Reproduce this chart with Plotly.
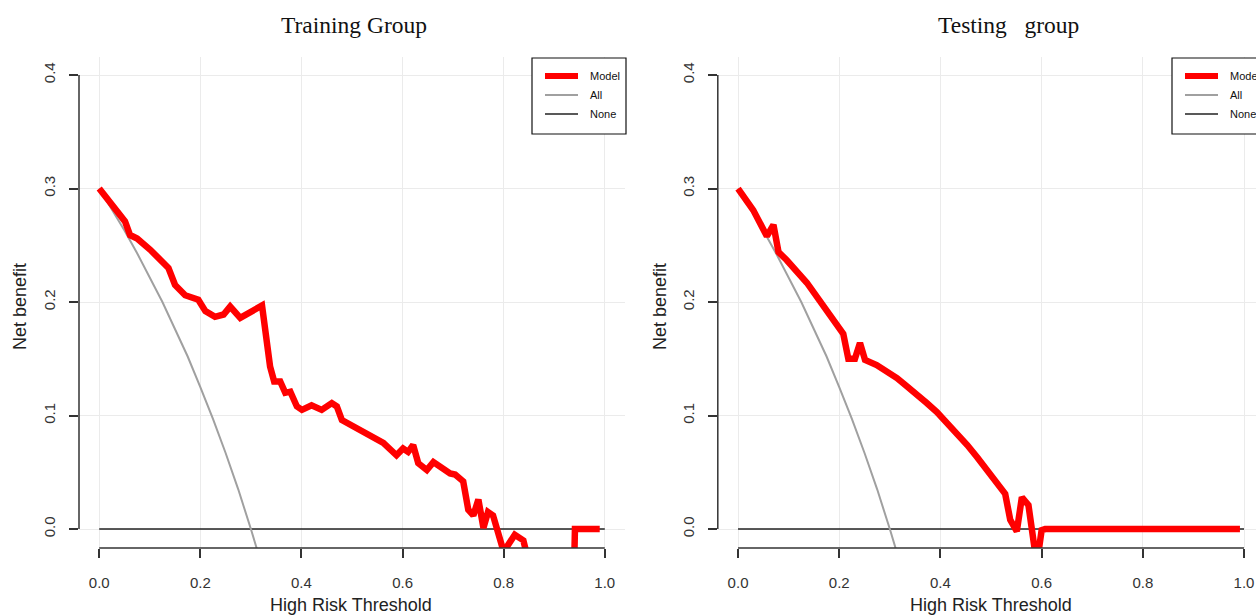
import plotly.graph_objects as go

# ---------------- data ----------------
train_model_x = [0.000, 0.022, 0.042, 0.051, 0.061, 0.075, 0.101, 0.121, 0.137, 0.150,
                 0.170, 0.196, 0.210, 0.229, 0.246, 0.259, 0.279, 0.322, 0.330, 0.338,
                 0.346, 0.358, 0.368, 0.378, 0.391, 0.401, 0.420, 0.440, 0.460, 0.470,
                 0.480, 0.529, 0.562, 0.588, 0.601, 0.611, 0.621, 0.631, 0.648, 0.661,
                 0.694, 0.704, 0.720, 0.730, 0.740, 0.750, 0.760, 0.769, 0.779, 0.800,
                 0.822, 0.839, 0.850, 0.880, 0.910, 0.938, 0.941, 0.990]
train_model_y = [0.300, 0.287, 0.277, 0.271, 0.259, 0.256, 0.246, 0.237, 0.230, 0.215,
                 0.206, 0.202, 0.192, 0.187, 0.189, 0.196, 0.186, 0.197, 0.172, 0.143,
                 0.130, 0.130, 0.120, 0.121, 0.108, 0.105, 0.109, 0.105, 0.111, 0.108,
                 0.096, 0.084, 0.076, 0.065, 0.071, 0.068, 0.074, 0.058, 0.052, 0.059,
                 0.049, 0.048, 0.042, 0.017, 0.012, 0.026, 0.001, 0.015, 0.012, -0.020,
                 -0.005, -0.010, -0.030, -0.060, -0.080, -0.060, 0.000, 0.000]

test_model_x = [0.000, 0.030, 0.057, 0.070, 0.080, 0.096, 0.136, 0.169, 0.198, 0.208,
                0.218, 0.231, 0.241, 0.251, 0.274, 0.294, 0.314, 0.333, 0.353, 0.373,
                0.393, 0.413, 0.433, 0.453, 0.473, 0.493, 0.513, 0.528,
                0.538, 0.551, 0.561, 0.574, 0.587, 0.594, 0.600, 0.607, 0.992]
test_model_y = [0.300, 0.281, 0.258, 0.268, 0.244, 0.237, 0.217, 0.196, 0.177, 0.172,
                0.150, 0.150, 0.164, 0.149, 0.1445, 0.139, 0.133, 0.126, 0.119, 0.111,
                0.103, 0.094, 0.084, 0.074, 0.063, 0.052, 0.040, 0.031,
                0.008, -0.002, 0.028, 0.021, -0.020, -0.020, -0.001, 0.000, 0.000]

all_x = [0.000, 0.025, 0.050, 0.075, 0.100, 0.125, 0.150, 0.175, 0.200, 0.225,
         0.250, 0.275, 0.300, 0.325]
all_y = [0.300, 0.282, 0.263, 0.243, 0.222, 0.200, 0.176, 0.152, 0.125, 0.097,
         0.067, 0.035, 0.000, -0.037]

none_x = [0.0, 1.0]
none_y = [0.0, 0.0]

x_ticks = [0.0, 0.2, 0.4, 0.6, 0.8, 1.0]
x_tick_labels = ["0.0", "0.2", "0.4", "0.6", "0.8", "1.0"]
y_ticks = [0.0, 0.1, 0.2, 0.3, 0.4]
y_tick_labels = ["0.0", "0.1", "0.2", "0.3", "0.4"]

titles = ["Training Group", "Testing\u00a0\u00a0\u00a0group"]
x_title = "High Risk Threshold"
y_title = "Net benefit"
legend_names = ["Model", "All", "None"]

# ---------------- layout helpers ----------------
W, H = 1256, 615
def fx(px):
    return px / W
def fy(py):
    return 1 - py / H

RED = "#ff0000"
GRAY = "#a0a0a0"
BLACK = "#222222"
AXC = "#333333"
FONT = "Liberation Sans, Arial, sans-serif"

fig = go.Figure()

panels = [
    ("x", "y", train_model_x, train_model_y, 0),
    ("x2", "y2", test_model_x, test_model_y, 640),
]
for xa, ya, mx, my, off in panels:
    fig.add_trace(go.Scatter(x=none_x, y=none_y, mode="lines", name=legend_names[2],
                             line=dict(color=BLACK, width=1.5), xaxis=xa, yaxis=ya,
                             showlegend=False, hoverinfo="skip"))
    fig.add_trace(go.Scatter(x=all_x, y=all_y, mode="lines", name=legend_names[1],
                             line=dict(color=GRAY, width=2), xaxis=xa, yaxis=ya,
                             showlegend=False, hoverinfo="skip"))
    fig.add_trace(go.Scatter(x=mx, y=my, mode="lines", name=legend_names[0],
                             line=dict(color=RED, width=6.5), xaxis=xa, yaxis=ya,
                             showlegend=False))

y_dom = [fy(548), fy(57)]
y_range = [-0.0167, (529 - 57) / 1135]

axis_common = dict(
    showgrid=True, gridcolor="#ebebeb", gridwidth=1, zeroline=False,
    showline=False, ticks="outside", ticklen=9, tickwidth=1.5, tickcolor=AXC,
    tickfont=dict(family=FONT, size=15, color="#333333"),
)

fig.update_layout(
    width=W, height=H, margin=dict(l=0, r=0, t=0, b=0),
    plot_bgcolor="white", paper_bgcolor="white", showlegend=False,
    xaxis=dict(domain=[fx(79), fx(625)], range=[-0.04, 1.04], anchor="y",
               tickvals=x_ticks, ticktext=x_tick_labels, ticklabelstandoff=12, **axis_common),
    yaxis=dict(domain=y_dom, range=y_range, anchor="x",
               tickvals=y_ticks, ticktext=y_tick_labels, tickangle=-90,
               ticklabelstandoff=8, **axis_common),
    xaxis2=dict(domain=[fx(717.8), 1.0], range=[-0.04, (W - 738) / 506], anchor="y2",
                tickvals=x_ticks, ticktext=x_tick_labels, ticklabelstandoff=12, **axis_common),
    yaxis2=dict(domain=y_dom, range=y_range, anchor="x2",
                tickvals=y_ticks, ticktext=y_tick_labels, tickangle=-90,
                ticklabelstandoff=8, **axis_common),
)

shapes = []
annotations = []
for i, (xa, ya, _, _, off) in enumerate(panels):
    xd = ("x" if xa == "x" else "x2")
    yd = ("y" if ya == "y" else "y2")
    # R-style axis lines spanning only the tick range
    shapes.append(dict(type="line", xref=xd, yref=yd + " domain", x0=0, x1=1, y0=0, y1=0,
                       line=dict(color=AXC, width=1.5)))
    shapes.append(dict(type="line", xref=xd + " domain", yref=yd, x0=0, x1=0, y0=0, y1=0.4,
                       line=dict(color=AXC, width=1.5)))
    # legend box
    shapes.append(dict(type="rect", xref="paper", yref="paper",
                       x0=fx(532 + off), x1=fx(626 + off), y0=fy(134), y1=fy(58),
                       line=dict(color="#111111", width=1.2), fillcolor="white", layer="above"))
    leg_styles = [(RED, 6, 76), (GRAY, 2, 95), (BLACK, 1.3, 114)]
    for name, (col, wid, py) in zip(legend_names, leg_styles):
        shapes.append(dict(type="line", xref="paper", yref="paper",
                           x0=fx(545 + off), x1=fx(578 + off), y0=fy(py), y1=fy(py),
                           line=dict(color=col, width=wid), layer="above"))
        annotations.append(dict(text=name, xref="paper", yref="paper",
                                x=fx(588 + off), y=fy(py), xanchor="left", yanchor="middle",
                                showarrow=False,
                                font=dict(family=FONT, size=11, color="#111111")))
    # titles
    annotations.append(dict(text=titles[i], xref="paper", yref="paper",
                            x=fx(354 + (654 if i else 0)), y=fy(25), xanchor="center",
                            yanchor="middle", showarrow=False,
                            font=dict(family="Liberation Serif, Times New Roman, serif",
                                      size=23.5, color="#111111")))
    annotations.append(dict(text=x_title, xref="paper", yref="paper",
                            x=fx(351 + off), y=fy(605), xanchor="center", yanchor="middle",
                            showarrow=False, font=dict(family=FONT, size=18, color="#222222")))
    annotations.append(dict(text=y_title, xref="paper", yref="paper",
                            x=fx(20 + off), y=fy(307), xanchor="center", yanchor="middle",
                            textangle=-90, showarrow=False,
                            font=dict(family=FONT, size=18, color="#222222")))

fig.update_layout(shapes=shapes, annotations=annotations)
fig.write_html("out.html")
